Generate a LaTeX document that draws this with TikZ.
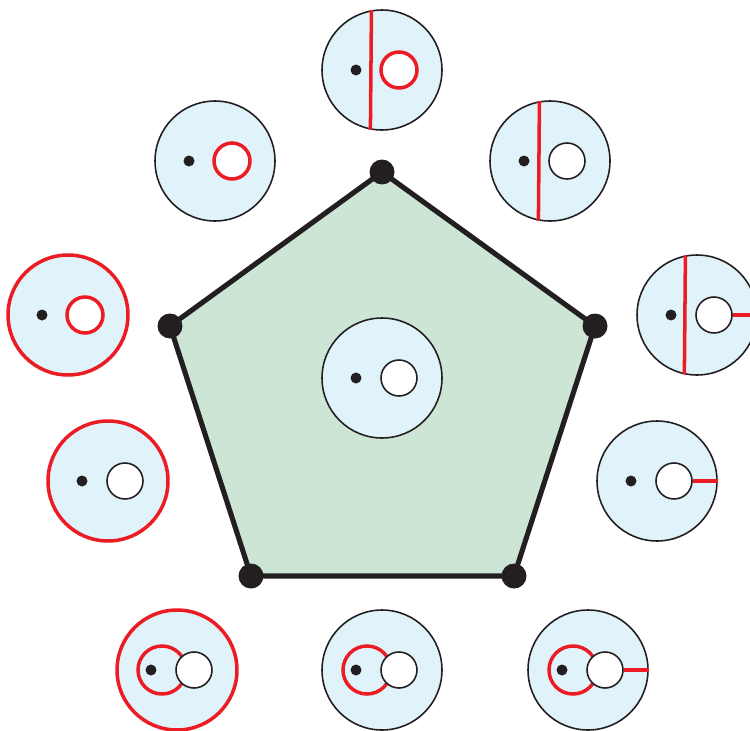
\documentclass[tikz,border=0pt]{standalone}
\usepackage{tikz}
\usepackage{xcolor}
\usetikzlibrary{positioning}
\definecolor{DiskBlue}{HTML}{E1F3FA}
\definecolor{FaceGreen}{HTML}{CCE5D5}
\definecolor{ArcRed}{HTML}{EC1C24}
\definecolor{InkBlack}{HTML}{231F20}
\tikzset{
  disk/.style={circle, draw=InkBlack, line width=0.9pt, fill=DiskBlue,
               minimum size=2.4cm, inner sep=0pt},
  reddisk/.style={disk, draw=ArcRed, line width=2pt},
  hole/.style={circle, draw=InkBlack, line width=0.9pt, fill=white,
               minimum size=0.72cm, inner sep=0pt},
  redhole/.style={hole, draw=ArcRed, line width=2pt},
  puncture/.style={circle, fill=InkBlack, minimum size=0.22cm, inner sep=0pt},
  vertex/.style={circle, fill=InkBlack, minimum size=0.5cm, inner sep=0pt},
  cut/.style={draw=ArcRed, line width=2pt},
  edge/.style={draw=InkBlack, line width=2.9pt, line join=round}
}

\begin{document}
\begin{tikzpicture}[x=0.02cm, y=-0.02cm]
    \clip (0,0) rectangle (750,730);

    % Pentagon
    \coordinate (v1) at (382,172);
    \coordinate (v2) at (595,326);
    \coordinate (v3) at (514,576);
    \coordinate (v4) at (251,576);
    \coordinate (v5) at (170,326);
    \fill[FaceGreen] (v1) -- (v2) -- (v3) -- (v4) -- (v5) -- cycle;
    \draw[edge] (v1) -- (v2) -- (v3) -- (v4) -- (v5) -- cycle;
    \node[vertex] (p1) at (v1) {};
    \node[vertex] (p2) at (v2) {};
    \node[vertex] (p3) at (v3) {};
    \node[vertex] (p4) at (v4) {};
    \node[vertex] (p5) at (v5) {};

    % Centre disk
    \node[disk] (dmid) at (382,378) {};
    \node[hole] (hmid) at (399,378) {};
    \node[puncture] (pmid) at (356,378) {};

    % Top
    \node[disk] (dtop) at (382,70) {};
    \draw[cut] (dtop.100.6) -- (dtop.259.4);
    \node[redhole] (htop) at (399,70) {};
    \node[puncture] (ptop) at (356,70) {};

    % Upper right
    \node[disk] (dur) at (550,161) {};
    \draw[cut] (dur.100.6) -- (dur.259.4);
    \node[hole] (hur) at (567,161) {};
    \node[puncture] (pur) at (524,161) {};

    % Right
    \node[disk] (dr) at (697,315) {};
    \draw[cut] (dr.101.5) -- (dr.258.5);
    \node[hole] (hr) at (714,315) {};
    \draw[cut] (hr.east) -- (dr.east);
    \node[puncture] (pr) at (671,315) {};

    % Lower right
    \node[disk] (dlr) at (657,481) {};
    \node[hole] (hlr) at (674,481) {};
    \draw[cut] (hlr.east) -- (dlr.east);
    \node[puncture] (plr) at (631,481) {};

    % Bottom right
    \node[disk] (dbr) at (588,670) {};
    \draw[cut] (573,670) circle (0.48cm);
    \node[hole] (hbr) at (605,670) {};
    \draw[cut] (hbr.east) -- (dbr.east);
    \node[puncture] (pbr) at (562,670) {};

    % Bottom
    \node[disk] (db) at (382,670) {};
    \draw[cut] (367,670) circle (0.48cm);
    \node[hole] (hb) at (399,670) {};
    \node[puncture] (pb) at (356,670) {};

    % Bottom left
    \node[reddisk] (dbl) at (177,670) {};
    \draw[cut] (162,670) circle (0.48cm);
    \node[hole] (hbl) at (194,670) {};
    \node[puncture] (pbl) at (151,670) {};

    % Lower left
    \node[reddisk] (dll) at (108,481) {};
    \node[hole] (hll) at (125,481) {};
    \node[puncture] (pll) at (82,481) {};

    % Left
    \node[reddisk] (dl) at (68,315) {};
    \node[redhole] (hl) at (85,315) {};
    \node[puncture] (pl) at (42,315) {};

    % Upper left
    \node[disk] (dul) at (215,161) {};
    \node[redhole] (hul) at (232,161) {};
    \node[puncture] (pul) at (189,161) {};
\end{tikzpicture}
\end{document}
